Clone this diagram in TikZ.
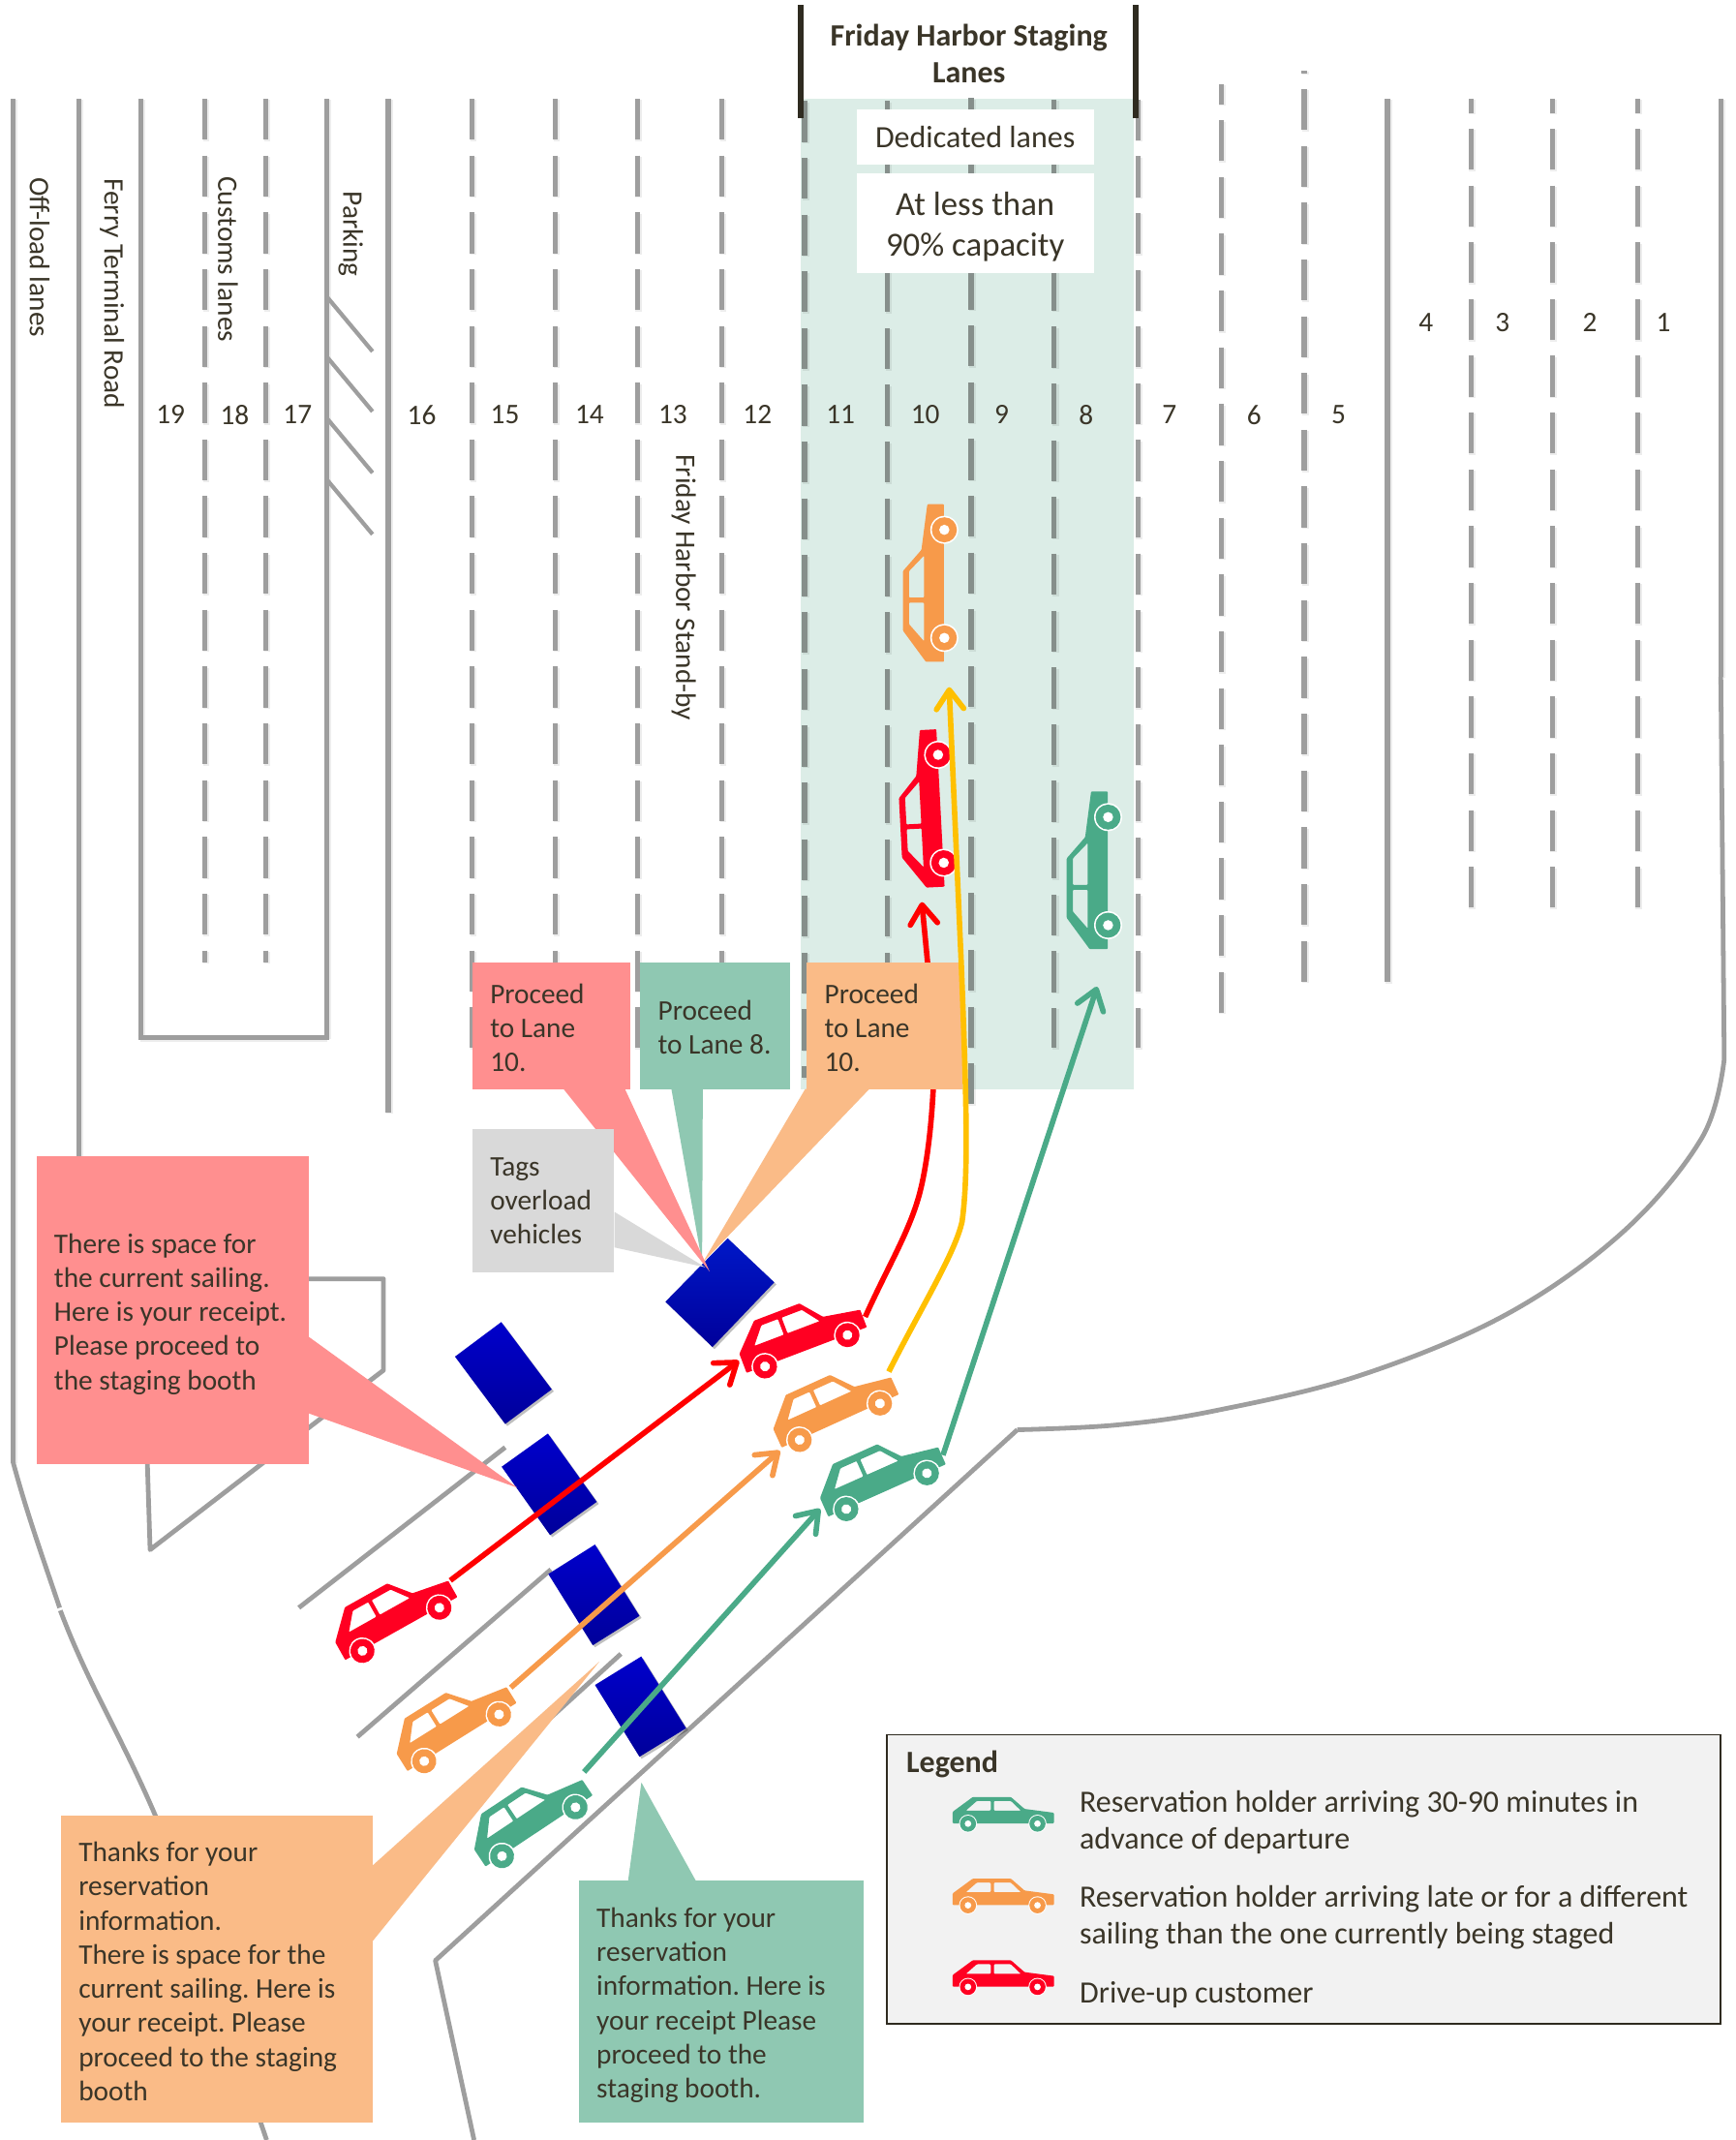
\documentclass[tikz,border=0pt]{standalone}
\usepackage{fontspec}
\setmainfont{Carlito}
\frenchspacing
\usetikzlibrary{arrows.meta,calc}
\definecolor{lanegray}{HTML}{9E9E9E}
\definecolor{lanedark}{HTML}{868F8B}
\definecolor{txt}{HTML}{3A3528}
\definecolor{barblack}{HTML}{2F2B20}
\definecolor{dedic}{HTML}{DCEDE7}
\definecolor{carred}{HTML}{FF0022}
\definecolor{carorange}{HTML}{F79A4A}
\definecolor{cargreen}{HTML}{4AAA88}
\definecolor{lblpink}{HTML}{FF8F8F}
\definecolor{lblpeach}{HTML}{FABB87}
\definecolor{lblgreen}{HTML}{8FC8B2}
\definecolor{lblgray}{HTML}{D9D9D9}
\definecolor{legfill}{HTML}{F2F2F2}
\definecolor{arrred}{HTML}{FF0000}
\definecolor{arryellow}{HTML}{FFC000}
\definecolor{boothdark}{HTML}{00009A}
\definecolor{boothtop}{HTML}{0000CC}
\definecolor{boothtopb}{HTML}{0018C8}
\newcommand{\carbody}[1]{%
  \fill[#1,even odd rule,rounded corners=.6pt]
      (-36.7,-.2) -- (-36.7,-8.7) -- (-22,-19.5) -- (6,-19.5) -- (16,-10.8) -- (37.5,-8) -- (37.5,-.2) -- cycle
      (-27,-9.6) -- (-19,-16.6) -- (-8.8,-16.6) -- (-8.8,-9.6) -- cycle
      (-6.5,-16.6) -- (6,-16.6) -- (13.3,-9.6) -- (-6.5,-9.6) -- cycle;}
\newcommand{\carwheels}[2]{%
  \foreach \wx in {-25.45,25.45}{
    \fill[white] (\wx,0) circle (#2*6.6);
    \fill[#1] (\wx,0) circle (#2*5.9);
    \fill[white] (\wx,0) circle (#2*2.4);
  }}
\tikzset{
  lane/.style={line width=3.6pt,lanegray},
  laneshadow/.style={line width=4.5pt,black,draw opacity=.07},
  road/.style={line width=3.4pt,lanegray,line join=round},
  lbl/.style={font=\fontsize{20.8}{25}\selectfont,text=txt,align=left,inner sep=0pt,anchor=north west},
  lane number/.style={font=\fontsize{20.8}{25}\selectfont,text=txt,inner sep=0pt},
  side/.style={font=\fontsize{20.8}{25}\selectfont,text=txt,inner sep=0pt,rotate=-90},
  legtext/.style={font=\fontsize{22.7}{27}\selectfont,text=txt,inner sep=0pt,anchor=west,align=left},
  barrow/.style={line width=4pt,-{Straight Barb[length=14pt,width=20pt,round]}},
  bar/.style={line width=4.4pt,barblack},
  pics/car/.style={code={\carbody{#1}\carwheels{#1}{1}}},
  pics/dcar/.style={code={\begin{scope}[yscale=1.38]\carbody{#1}\end{scope}\carwheels{#1}{1.18}}}
}
\newcommand{\booth}[5]{%
  \fill[black,fill opacity=.25] ($#2+(1.5,1.5)$) -- ($#3+(1.5,1.5)$) -- ($#4+(1.5,1.5)$) -- ($#5+(1.5,1.5)$) -- cycle;
  \shade[top color=#1,bottom color=boothdark] #2 -- #3 -- #4 -- #5 -- cycle;
}
\begin{document}
\begin{tikzpicture}[x=1pt,y=-1pt]
\path[use as bounding box,fill=white] (0,0) rectangle (1272,1568);

% dedicated lanes background
\fill[dedic] (587,72.4) rectangle (831,798);

% lanes: solid
\foreach \lx/\ly/\lz in {9.5/72.4/1071,57.5/72.4/860,103/72.4/760,239.6/72.4/760,284.5/72.4/815,1016.7/72.4/719.5,1261/72.4/496}{
  \draw[laneshadow] (\lx+1,\ly+1) -- (\lx+1,\lz+1);
  \draw[lane] (\lx,\ly) -- (\lx,\lz);
}
\draw[laneshadow] (103,761) -- (240,761);
\draw[lane] (101.2,760) -- (241.4,760);
% lanes: dashed outside
\foreach \lx/\ly/\lz/\lp in {150/72.4/705/0,195/72.4/705/0,346/72.4/775/0,407/72.4/775/0,467/72.4/775/0,529/72.4/775/0,
   833.8/72.8/768/0,894.8/61.5/742/15,955.7/51.8/719.5/28.1,1077.8/72.4/665/19.7,1137.5/72.4/665/19.7,1199.8/72.4/665/19.7}{
  \draw[laneshadow,dash pattern=on 30pt off 11.6pt,dash phase=\lp pt] (\lx+1,\ly+1) -- (\lx+1,\lz+1);
  \draw[lane,dash pattern=on 30pt off 11.6pt,dash phase=\lp pt] (\lx,\ly) -- (\lx,\lz);
}
% lanes: dashed in the dedicated area
\foreach \lx/\ly/\lz in {589.6/74/790,650.5/74/790,711.6/72/809,772.6/73/768}{
  \draw[laneshadow,dash pattern=on 30pt off 11.6pt] (\lx+1,\ly+1) -- (\lx+1,\lz+1);
  \draw[lane,lanedark,dash pattern=on 30pt off 11.6pt] (\lx,\ly) -- (\lx,\lz);
}
% parking strokes
\foreach \py in {218,262,307,352}{
  \draw[road,line width=3pt] (240,\py) -- (273,\py+39.5);
}
% roads
\coordinate (rightTop) at (1261,496);
\coordinate (apex) at (745.5,1047.6);
\coordinate (kerb) at (319,1436.5);
\draw[road] (rightTop) -- (1263.5,776) plot[smooth,tension=.6] coordinates {(1263.5,776) (1247.5,833) (1190,902) (1104,963) (996,1008) (888.6,1034) (817,1044.2) (745.5,1047.6)};
\draw[road] (apex) -- (kerb) -- (347.4,1568);
\coordinate (leftA) at (9.5,1071);
\coordinate (leftB) at (43.7,1178);
\coordinate (leftC) at (44.2,1180);
\coordinate (leftD) at (114,1330.6);
\coordinate (leftE) at (195.4,1568);
\draw[road] (leftA) .. controls (20,1110) and (33,1146) .. (leftB);
\draw[road] (leftC) .. controls (65,1235) and (88,1270) .. (leftD) -- (leftE);
% building
\draw[road] (200,937) -- (281,937) -- (281,1004) -- (110,1135.5) -- (107.6,1060);
% approach lanes
\draw[road] (219,1178) -- (370.2,1060.5);
\draw[road] (261.9,1272.6) -- (403.7,1150);
\draw[road] (455,1211.8) -- (402,1260);

% booths
\booth{boothtopb}{(533.2,907.3)}{(567.4,939.6)}{(522.1,987)}{(487.6,953.8)}
\booth{boothtop}{(367.3,968.7)}{(404.3,1018)}{(370.2,1043.4)}{(333.4,994)}
\booth{boothtop}{(401.5,1050.4)}{(437.3,1100.4)}{(403.1,1124.8)}{(367.6,1074.7)}
\booth{boothtop}{(436,1131.7)}{(468.6,1184)}{(434.4,1205.5)}{(401.8,1153.3)}
\booth{boothtop}{(469.9,1213.7)}{(502.8,1266.3)}{(468.6,1287.2)}{(436,1234.6)}

% cars
\pic[rotate=90,scale=1.556] at (692,427.8) {car=carorange};
\pic[rotate=93,scale=1.556] at (689.5,592.6) {car=carred};
\pic[rotate=90,scale=1.556] at (812,638.3) {car=cargreen};
\pic[rotate=29.3,scale=1.27] at (293.8,1193.8) {dcar=carred};
\pic[rotate=20.8,scale=1.27] at (590.8,989.7) {dcar=carred};
\pic[rotate=24.4,scale=1.27] at (615.4,1041.7) {dcar=carorange};
\pic[rotate=32,scale=1.27] at (338.3,1273.3) {dcar=carorange};
\pic[rotate=24,scale=1.27] at (649.7,1092.6) {dcar=cargreen};
\pic[rotate=33.6,scale=1.27] at (394.8,1342.1) {dcar=cargreen};

% arrows
\coordinate (redAs) at (330,1158);
\coordinate (redAe) at (541.5,997);
\coordinate (orAs) at (374.3,1236.5);
\coordinate (orAe) at (571.5,1063);
\coordinate (grAs) at (428,1298.3);
\coordinate (grAe) at (601,1105.5);
\coordinate (redBs) at (634,964.9);
\coordinate (redBe) at (675.5,661);
\coordinate (yeS) at (651.3,1005);
\coordinate (yeE) at (695.5,503.5);
\coordinate (grBs) at (691,1066.2);
\coordinate (grBe) at (804,723);
\draw[barrow,arrred] (redAs) -- (redAe);
\draw[barrow,carorange] (orAs) -- (orAe);
\draw[barrow,cargreen] (grAs) -- (grAe);
\draw[barrow,arrred] (redBs) .. controls (652,925) and (668,900) .. (675,870) .. controls (682,840) and (686,790) .. (684,750) -- (redBe);

% pointers
\fill[lblgray] (450.3,888) -- (516.7,928.5) -- (450.3,914) -- cycle;
\fill[lblgreen] (492,798) -- (514.5,925) -- (515,798) -- cycle;
\fill[lblpeach] (590,798) -- (515,925) -- (637,798) -- cycle;
\fill[lblpink] (413,798) -- (520,931.6) -- (458,798) -- cycle;
\fill[lblpink] (226,979.3) -- (379,1090) -- (226,1035.5) -- cycle;
\fill[lblpeach] (272,1367.8) -- (439.2,1217.5) -- (272,1423.6) -- cycle;
\fill[lblgreen] (460,1380) -- (470,1306) -- (511,1380) -- cycle;

% labels
\fill[lblpink] (346,705) rectangle (462,798);
\fill[lblgreen] (469,705) rectangle (579,798);
\fill[lblpeach] (591,705) rectangle (705,798);
\fill[lblgray] (346,827) rectangle (450,932);
\fill[lblpink] (26.7,847) rectangle (226.5,1073);
\fill[lblpeach] (44.8,1330.6) rectangle (272.8,1555);
\fill[lblgreen] (424,1378) rectangle (633,1555);
\node[lbl] (lblA) at (359,720.5) {Proceed\\to Lane\\10.};
\node[lbl] (lblB) at (482,732.5) {Proceed\\to Lane 8.};
\node[lbl] (lblC) at (604,720.5) {Proceed\\to Lane\\10.};
\node[lbl] (lblD) at (359,848) {Tags\\overload\\vehicles};
\node[lbl] (lblE) at (39.5,903.5) {There is space for\\the current sailing.\\Here is your receipt.\\Please proceed to\\the staging booth};
\node[lbl] (lblF) at (57.5,1349.5) {Thanks for your\\reservation\\information.\\There is space for the\\current sailing. Here is\\your receipt. Please\\proceed to the staging\\booth};
\node[lbl] (lblG) at (437,1397.5) {Thanks for your\\reservation\\information. Here is\\your receipt Please\\proceed to the\\staging booth.};

% later arrows
\draw[barrow,arryellow] (yeS) .. controls (675,958) and (700,918) .. (705,895) .. controls (710,860) and (708,800) .. (704.5,708) -- (yeE);
\draw[barrow,cargreen] (grBs) -- (grBe);

% header
\draw[bar] (586.7,3.8) -- (586.7,86.3);
\draw[bar] (832.4,3.8) -- (832.4,86.3);
\node[font=\fontsize{22.7}{27}\selectfont\bfseries,text=txt,align=center,inner sep=0pt] (title) at (710,39.5) {Friday Harbor Staging\\Lanes};
\fill[white] (627.7,80.4) rectangle (801.4,120.6);
\fill[white] (627.7,127) rectangle (801.4,199.8);
\node[inner sep=0pt,font=\fontsize{22.7}{27}\selectfont,text=txt] (ded) at (714.6,100.5) {Dedicated lanes};
\node[inner sep=0pt,font=\fontsize{24.7}{29.5}\selectfont,text=txt,align=center] (cap) at (714.6,166) {At less than\\90\% capacity};
% lane numbers
\foreach \n/\nx in {19/125,18/172,17/218,16/309,15/370,14/432,13/493,12/555,11/616,10/678,9/734,8/796,7/857,6/919,5/981}{
  \node[lane number] (n\n) at (\nx,304) {\n};
}
\foreach \n/\nx in {4/1045,3/1101,2/1165,1/1219}{
  \node[lane number] (n\n) at (\nx,236) {\n};
}
\node[side] (s1) at (29,188.5) {Off-load lanes};
\node[side] (s2) at (82,215) {Ferry Terminal Road};
\node[side] (s3) at (167,190) {Customs lanes};
\node[side] (s4) at (257,171.5) {Parking};
\node[side] (s5) at (501,430.5) {Friday Harbor Stand-by};

% legend
\draw[fill=legfill,draw=barblack,line width=1.2pt] (650,1271) rectangle (1261,1483);
\node[font=\fontsize{22.7}{27}\selectfont\bfseries,text=txt,inner sep=0pt,anchor=west] (legT) at (664,1293) {Legend};
\pic at (734.8,1336.2) {car=cargreen};
\pic at (734.8,1396) {car=carorange};
\pic at (734.8,1455.8) {car=carred};
\node[legtext] (leg1) at (791,1335) {Reservation holder arriving 30-90 minutes in\\advance of departure};
\node[legtext] (leg2) at (791,1405) {Reservation holder arriving late or for a different\\sailing than the one currently being staged};
\node[legtext] (leg3) at (791,1461.5) {Drive-up customer};
\end{tikzpicture}
\end{document}
